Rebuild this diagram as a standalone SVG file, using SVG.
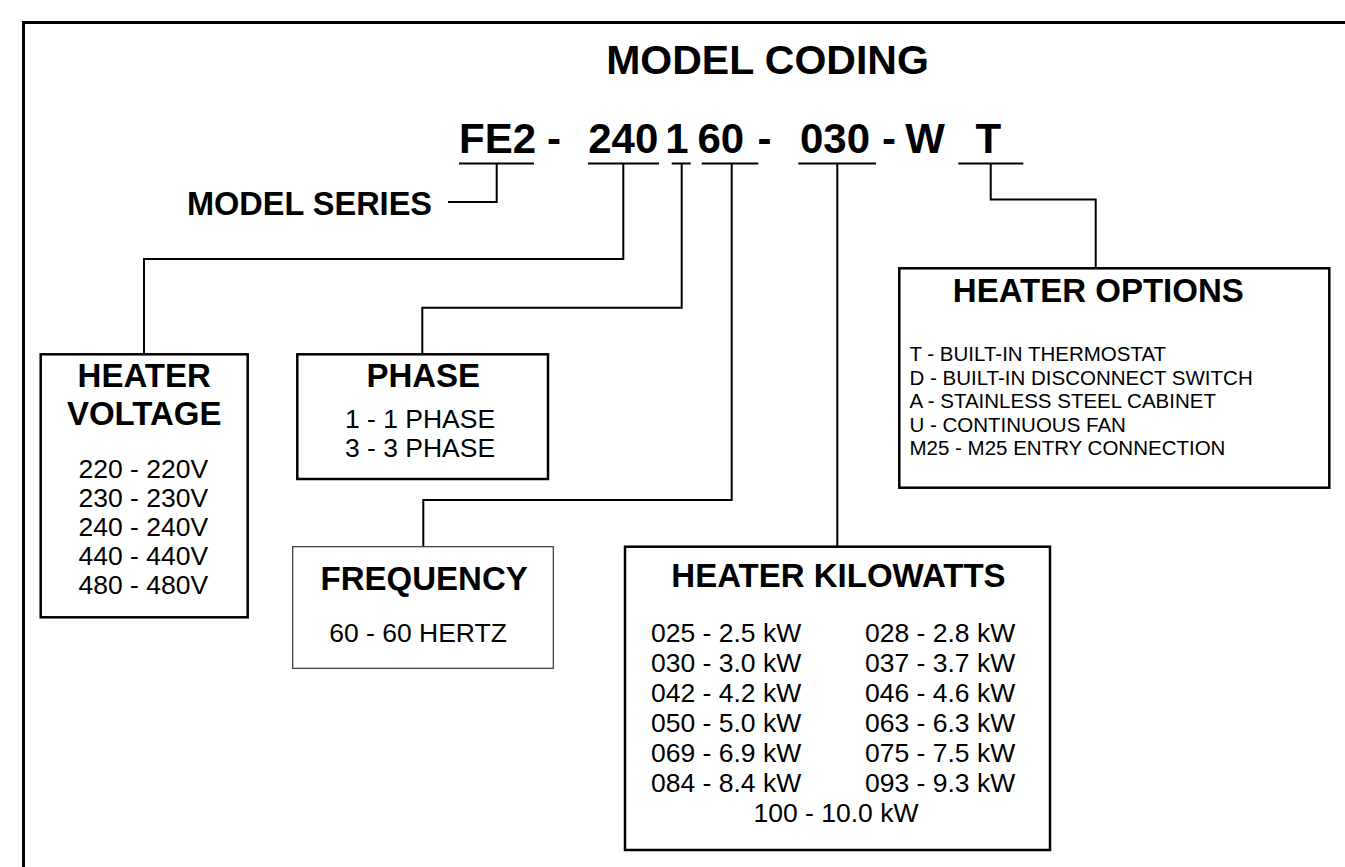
<svg xmlns="http://www.w3.org/2000/svg" width="1345" height="867" viewBox="0 0 1345 867">
<style>
text{font-family:"Liberation Sans",Arial,sans-serif;fill:#000}
.b{font-weight:bold}
.t{font-size:33px;font-weight:bold;text-anchor:middle}
.r{font-size:26.5px}
.o{font-size:20.5px}
.m{text-anchor:middle}
.code{font-size:42px;font-weight:bold;text-anchor:middle}
.box{fill:#fff;stroke:#000;stroke-width:2.5}
.thin{fill:#fff;stroke:#333;stroke-width:1.2}
.ln{fill:none;stroke:#000;stroke-width:2}
</style>
<rect x="0" y="0" width="1345" height="867" fill="#fff"/>
<path d="M23.5,870 V22.5 H1350" fill="none" stroke="#000" stroke-width="3"/>
<text x="767.5" y="74" class="b m" font-size="41">MODEL CODING</text>
<g id="code">
<text x="497.5" y="152.5" class="code">FE2</text>
<text x="554" y="152.5" class="code">-</text>
<text x="623.3" y="152.5" class="code">240</text>
<text x="677" y="152.5" class="code">1</text>
<text x="720.8" y="152.5" class="code">60</text>
<text x="764.5" y="152.5" class="code">-</text>
<text x="835" y="152.5" class="code">030</text>
<text x="889" y="152.5" class="code">-</text>
<text x="925" y="152.5" class="code">W</text>
<text x="988.3" y="152.5" class="code">T</text>
</g>
<g id="model-series">
<text x="187" y="215" class="b" font-size="32.5">MODEL SERIES</text>
</g>
<g id="connectors">
<path class="ln" d="M459,163.5 H534 M588,163.5 H659 M671.7,163.5 H690.7 M701.7,163.5 H758.3 M798.3,163.5 H876 M958.3,163.5 H1023.3"/>
<path class="ln" d="M496.7,163.5 V202 H448"/>
<path class="ln" d="M623.3,163.5 V259 H144 V354"/>
<path class="ln" d="M681.7,163.5 V307.7 H422.3 V354"/>
<path class="ln" d="M731.7,163.5 V500 H423.3 V546.7"/>
<path class="ln" d="M837.3,163.5 V546.7"/>
<path class="ln" d="M990.7,163.5 V199.5 H1095.7 V268.3"/>
</g>
<g id="heater-voltage">
<rect class="box" x="40.7" y="354.3" width="207" height="263"/>
<text x="144.2" y="386.7" class="t">HEATER</text>
<text x="144.2" y="425" class="t">VOLTAGE</text>
<text x="143.3" y="478.3" class="r m">220 - 220V</text>
<text x="143.3" y="507.3" class="r m">230 - 230V</text>
<text x="143.3" y="536.3" class="r m">240 - 240V</text>
<text x="143.3" y="565.3" class="r m">440 - 440V</text>
<text x="143.3" y="594.3" class="r m">480 - 480V</text>
</g>
<g id="phase">
<rect class="box" x="297.3" y="354.3" width="250.7" height="124.7"/>
<text x="423.3" y="386.7" class="t">PHASE</text>
<text x="420" y="428.3" class="r m">1 - 1 PHASE</text>
<text x="420" y="456.7" class="r m">3 - 3 PHASE</text>
</g>
<g id="frequency">
<rect class="thin" x="292.7" y="546.7" width="260.6" height="121.6"/>
<text x="424.2" y="590" class="t">FREQUENCY</text>
<text x="418" y="641.7" class="r m">60 - 60 HERTZ</text>
</g>
<g id="heater-kilowatts">
<rect class="box" x="625" y="546.7" width="425" height="303.3"/>
<text x="838.5" y="586.7" class="t">HEATER KILOWATTS</text>
<g class="r">
<text x="651" y="641.7">025 - 2.5 kW</text>
<text x="865" y="641.7">028 - 2.8 kW</text>
<text x="651" y="671.7">030 - 3.0 kW</text>
<text x="865" y="671.7">037 - 3.7 kW</text>
<text x="651" y="701.7">042 - 4.2 kW</text>
<text x="865" y="701.7">046 - 4.6 kW</text>
<text x="651" y="731.7">050 - 5.0 kW</text>
<text x="865" y="731.7">063 - 6.3 kW</text>
<text x="651" y="761.7">069 - 6.9 kW</text>
<text x="865" y="761.7">075 - 7.5 kW</text>
<text x="651" y="791.7">084 - 8.4 kW</text>
<text x="865" y="791.7">093 - 9.3 kW</text>
</g>
<text x="836" y="821.7" class="r m">100 - 10.0 kW</text>
</g>
<g id="heater-options">
<rect class="box" x="899.3" y="268.3" width="430" height="219.4"/>
<text x="1098.3" y="301.7" class="t">HEATER OPTIONS</text>
<g class="o">
<text x="909.5" y="361">T - BUILT-IN THERMOSTAT</text>
<text x="909.5" y="384.5">D - BUILT-IN DISCONNECT SWITCH</text>
<text x="909.5" y="408">A - STAINLESS STEEL CABINET</text>
<text x="909.5" y="431.5">U - CONTINUOUS FAN</text>
<text x="909.5" y="455">M25 - M25 ENTRY CONNECTION</text>
</g>
</g>
</svg>
